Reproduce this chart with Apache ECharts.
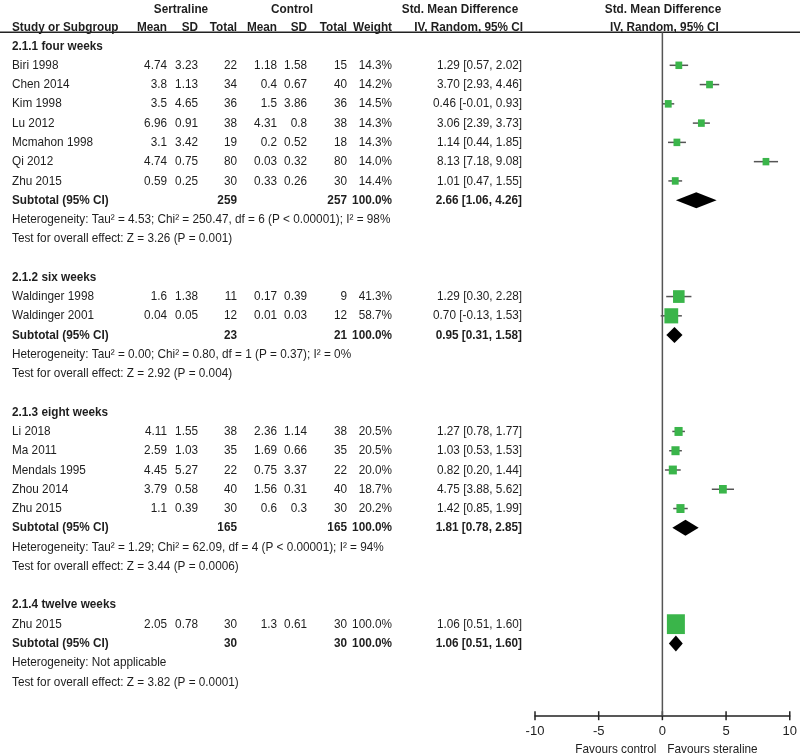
<!DOCTYPE html>
<html>
<head>
<meta charset="utf-8">
<script src="https://cdn.jsdelivr.net/npm/echarts@6/dist/echarts.min.js"></script>
<style>
html,body{margin:0;padding:0;background:#fff;}
#chart{width:800px;height:755px;}
</style>
</head>
<body>
<div id="chart"></div>
<script>
// ---------- data ----------
const groupTitles = ['2.1.1 four weeks', '2.1.2 six weeks', '2.1.3 eight weeks', '2.1.4 twelve weeks'];
const studyNames = ['Biri 1998','Chen 2014','Kim 1998','Lu 2012','Mcmahon 1998','Qi 2012','Zhu 2015',
  'Waldinger 1998','Waldinger 2001',
  'Li 2018','Ma 2011','Mendals 1995','Zhou 2014','Zhu 2015',
  'Zhu 2015'];
const studyGroup = [0,0,0,0,0,0,0, 1,1, 2,2,2,2,2, 3];
const expMean = [4.74,3.8,3.5,6.96,3.1,4.74,0.59, 1.6,0.04, 4.11,2.59,4.45,3.79,1.1, 2.05];
const expSD   = [3.23,1.13,4.65,0.91,3.42,0.75,0.25, 1.38,0.05, 1.55,1.03,5.27,0.58,0.39, 0.78];
const expN    = [22,34,36,38,19,80,30, 11,12, 38,35,22,40,30, 30];
const ctlMean = [1.18,0.4,1.5,4.31,0.2,0.03,0.33, 0.17,0.01, 2.36,1.69,0.75,1.56,0.6, 1.3];
const ctlSD   = [1.58,0.67,3.86,0.8,0.52,0.32,0.26, 0.39,0.03, 1.14,0.66,3.37,0.31,0.3, 0.61];
const ctlN    = [15,40,36,38,18,80,30, 9,12, 38,35,22,40,30, 30];
const weights = [14.3,14.2,14.5,14.3,14.3,14.0,14.4, 41.3,58.7, 20.5,20.5,20.0,18.7,20.2, 100.0];
const smd     = [1.29,3.70,0.46,3.06,1.14,8.13,1.01, 1.29,0.70, 1.27,1.03,0.82,4.75,1.42, 1.06];
const ciLow   = [0.57,2.93,-0.01,2.39,0.44,7.18,0.47, 0.30,-0.13, 0.78,0.53,0.20,3.88,0.85, 0.51];
const ciHigh  = [2.02,4.46,0.93,3.73,1.85,9.08,1.55, 2.28,1.53, 1.77,1.53,1.44,5.62,1.99, 1.60];

const groupExpN = [259, 23, 165, 30];
const groupCtlN = [257, 21, 165, 30];
const groupSmd  = [2.66, 0.95, 1.81, 1.06];
const groupLow  = [1.06, 0.31, 0.78, 0.51];
const groupHigh = [4.26, 1.58, 2.85, 1.60];
const groupHet = [
  'Heterogeneity: Tau² = 4.53; Chi² = 250.47, df = 6 (P < 0.00001); I² = 98%',
  'Heterogeneity: Tau² = 0.00; Chi² = 0.80, df = 1 (P = 0.37); I² = 0%',
  'Heterogeneity: Tau² = 1.29; Chi² = 62.09, df = 4 (P < 0.00001); I² = 94%',
  'Heterogeneity: Not applicable'
];
const groupTest = [
  'Test for overall effect: Z = 3.26 (P = 0.001)',
  'Test for overall effect: Z = 2.92 (P = 0.004)',
  'Test for overall effect: Z = 3.44 (P = 0.0006)',
  'Test for overall effect: Z = 3.82 (P = 0.0001)'
];
const xTicks = [-10, -5, 0, 5, 10];
const favourLeft = 'Favours control';
const favourRight = 'Favours steraline';

// ---------- layout (positions/styles) ----------
const COL = { name: 12, eMean: 167, eSD: 198, eN: 237, cMean: 277, cSD: 307, cN: 347, w: 392, ci: 522,
  sert: 181, ctl: 292, smdHead: 460 };
const ROW_H1 = -1.9, ROW_H2 = -0.99, ROW_LINE = -0.71, ROW_AXIS = 34.75, ROW_FOOT = 36.5;
const FONT = '"Liberation Sans", Arial, sans-serif';
const FS = 13, SX = 0.905;
const TXT = '#1e1e1e';
const GREEN = '#3ab54a';

// assign rows
const studyRow = [], groupTitleRow = [], groupSubRow = [], groupHetRow = [], groupTestRow = [];
let r = 0;
for (let g = 0; g < groupTitles.length; g++) {
  groupTitleRow[g] = r++;
  for (let i = 0; i < studyNames.length; i++) if (studyGroup[i] === g) studyRow[i] = r++;
  groupSubRow[g] = r++;
  groupHetRow[g] = r++;
  groupTestRow[g] = r++;
  r++; // blank
}

const f2 = v => v.toFixed(2);
const ciText = (e, l, h) => f2(e) + ' [' + f2(l) + ', ' + f2(h) + ']';

const texts = [];
function T(x, row, text, align, bold) { texts.push({ x, row, text: String(text), align, bold: !!bold }); }
T(COL.sert, ROW_H1, 'Sertraline', 'center', true);
T(COL.ctl, ROW_H1, 'Control', 'center', true);
T(COL.smdHead, ROW_H1, 'Std. Mean Difference', 'center', true);
T(COL.name, ROW_H2, 'Study or Subgroup', 'left', true);
T(COL.eMean, ROW_H2, 'Mean', 'right', true);
T(COL.eSD, ROW_H2, 'SD', 'right', true);
T(COL.eN, ROW_H2, 'Total', 'right', true);
T(COL.cMean, ROW_H2, 'Mean', 'right', true);
T(COL.cSD, ROW_H2, 'SD', 'right', true);
T(COL.cN, ROW_H2, 'Total', 'right', true);
T(COL.w, ROW_H2, 'Weight', 'right', true);
T(COL.ci + 1, ROW_H2, 'IV, Random, 95% CI', 'right', true);

for (let g = 0; g < groupTitles.length; g++) {
  T(COL.name, groupTitleRow[g], groupTitles[g], 'left', true);
  T(COL.name, groupSubRow[g], 'Subtotal (95% CI)', 'left', true);
  T(COL.eN, groupSubRow[g], groupExpN[g], 'right', true);
  T(COL.cN, groupSubRow[g], groupCtlN[g], 'right', true);
  T(COL.w, groupSubRow[g], '100.0%', 'right', true);
  T(COL.ci, groupSubRow[g], ciText(groupSmd[g], groupLow[g], groupHigh[g]), 'right', true);
  T(COL.name, groupHetRow[g], groupHet[g], 'left', false);
  T(COL.name, groupTestRow[g], groupTest[g], 'left', false);
}
for (let i = 0; i < studyNames.length; i++) {
  const row = studyRow[i];
  T(COL.name, row, studyNames[i], 'left');
  T(COL.eMean, row, expMean[i], 'right');
  T(COL.eSD, row, expSD[i], 'right');
  T(COL.eN, row, expN[i], 'right');
  T(COL.cMean, row, ctlMean[i], 'right');
  T(COL.cSD, row, ctlSD[i], 'right');
  T(COL.cN, row, ctlN[i], 'right');
  T(COL.w, row, weights[i].toFixed(1) + '%', 'right');
  T(COL.ci, row, ciText(smd[i], ciLow[i], ciHigh[i]), 'right');
}

const ftexts = [
  { x: 0.05, row: ROW_H1, text: 'Std. Mean Difference', align: 'center', bold: true },
  { x: 0.15, row: ROW_H2, text: 'IV, Random, 95% CI', align: 'center', bold: true },
  { x: -0.47, row: ROW_FOOT, text: favourLeft, align: 'right', bold: false },
  { x: 0.39, row: ROW_FOOT, text: favourRight, align: 'left', bold: false }
];

function textRender(list) {
  return function (params, api) {
    const t = list[params.dataIndex];
    const p = api.coord([api.value(0), api.value(1)]);
    return {
      type: 'text', x: p[0], y: p[1], scaleX: SX, silent: true,
      style: {
        text: t.text, fill: TXT,
        font: (t.bold ? 'bold ' : '') + FS + 'px ' + FONT,
        align: t.align, textAlign: t.align,
        verticalAlign: 'middle', textVerticalAlign: 'middle'
      }
    };
  };
}

const studyData = studyNames.map((n, i) => [smd[i], ciLow[i], ciHigh[i], studyRow[i], weights[i]]);
const diamondData = groupTitles.map((n, g) => [groupSmd[g], groupLow[g], groupHigh[g], groupSubRow[g]]);
const tickData = xTicks.map(v => [v, ROW_AXIS]);

const Y_MIN = -2.3;
const yAx = idx => ({ type: 'value', gridIndex: idx, min: Y_MIN, max: ROW_AXIS, inverse: true, show: false });

const option = {
  animation: false,
  backgroundColor: '#fff',
  grid: [
    { left: 0, width: 800, top: 1.7, height: 714 },
    { left: 535, width: 255, top: 1.7, height: 714 }
  ],
  xAxis: [
    { type: 'value', gridIndex: 0, min: 0, max: 800, show: false },
    { type: 'value', gridIndex: 1, min: xTicks[0], max: xTicks[xTicks.length - 1], interval: 5,
      position: 'bottom',
      axisLine: { show: true, onZero: false, lineStyle: { color: '#222', width: 1.5 } },
      axisTick: { show: false },
      axisLabel: { color: TXT, fontSize: 13, fontFamily: FONT, margin: 9 },
      splitLine: { show: false } }
  ],
  yAxis: [yAx(0), yAx(1)],
  series: [
    { type: 'line', xAxisIndex: 0, yAxisIndex: 0, data: [[0, ROW_LINE], [800, ROW_LINE]],
      symbol: 'none', lineStyle: { color: '#222', width: 1.5 }, silent: true },
    { type: 'line', xAxisIndex: 1, yAxisIndex: 1, data: [[0, ROW_LINE], [0, ROW_AXIS]],
      symbol: 'none', lineStyle: { color: '#555', width: 1.5 }, silent: true },
    { type: 'custom', xAxisIndex: 1, yAxisIndex: 1, data: tickData, clip: false, silent: true,
      renderItem: function (params, api) {
        const p = api.coord([api.value(0), api.value(1)]);
        return { type: 'line', shape: { x1: p[0], y1: p[1] - 4.5, x2: p[0], y2: p[1] + 4.5 },
          style: { stroke: '#222', lineWidth: 1.5 } };
      } },
    { type: 'custom', xAxisIndex: 0, yAxisIndex: 0, data: texts.map(t => [t.x, t.row]),
      renderItem: textRender(texts), clip: false, silent: true },
    { type: 'custom', xAxisIndex: 1, yAxisIndex: 1, data: ftexts.map(t => [t.x, t.row]),
      renderItem: textRender(ftexts), clip: false, silent: true },
    { type: 'custom', xAxisIndex: 1, yAxisIndex: 1, data: studyData, clip: false, silent: true,
      renderItem: function (params, api) {
        const c = api.coord([api.value(0), api.value(3)]);
        const l = api.coord([api.value(1), api.value(3)]);
        const h = api.coord([api.value(2), api.value(3)]);
        const s = 1.8 * Math.sqrt(api.value(4));
        const sh = s * 1.1;
        return { type: 'group', children: [
          { type: 'line', shape: { x1: l[0], y1: l[1], x2: h[0], y2: h[1] },
            style: { stroke: '#555', lineWidth: 1.5 } },
          { type: 'rect', shape: { x: c[0] - s / 2, y: c[1] - sh / 2, width: s, height: sh },
            style: { fill: GREEN } }
        ] };
      } },
    { type: 'custom', xAxisIndex: 1, yAxisIndex: 1, data: diamondData, clip: false, silent: true,
      renderItem: function (params, api) {
        const c = api.coord([api.value(0), api.value(3)]);
        const l = api.coord([api.value(1), api.value(3)]);
        const h = api.coord([api.value(2), api.value(3)]);
        const hh = 8;
        return { type: 'polygon',
          shape: { points: [[l[0], c[1]], [c[0], c[1] - hh], [h[0], c[1]], [c[0], c[1] + hh]] },
          style: { fill: '#000' } };
      } }
  ]
};

const chart = echarts.init(document.getElementById('chart'), null, { renderer: 'canvas' });
chart.setOption(option);
</script>
</body>
</html>
